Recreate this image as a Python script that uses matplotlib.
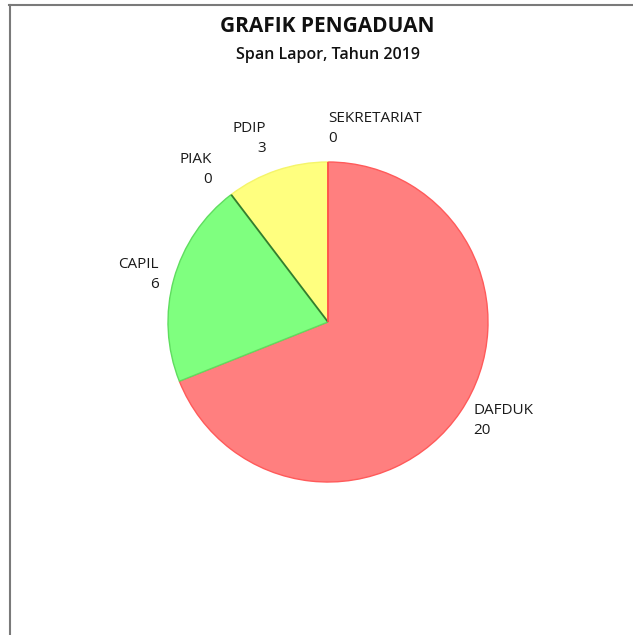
import numpy as np
import matplotlib
matplotlib.use("Agg")
import matplotlib.pyplot as plt

# data
categories = ["DAFDUK", "CAPIL", "PIAK", "PDIP", "SEKRETARIAT"]
values = [20, 6, 0, 3, 0]
fill_colors = ["#ff7f7f", "#7fff7f", "#5fbf5f", "#ffff7f", "#ff7f7f"]
edge_colors = ["#ff5a5a", "#5fdd5f", "#2f7f2f", "#f5f56a", "#ff4a4a"]
label_dist = [1.1, 1.1, 1.2, 1.21, 1.21]

plt.rcParams["font.family"] = ["Open Sans", "DejaVu Sans"]

fig = plt.figure(figsize=(6.33, 6.35), dpi=100)
fig.patch.set_facecolor("white")

# frame lines (top and left)
fig.add_artist(plt.Line2D([9 / 633, 1], [1 - 4.5 / 635] * 2, color="#7a7a7a", lw=1.5))
fig.add_artist(plt.Line2D([9.5 / 633] * 2, [0, 1 - 4.5 / 635], color="#7a7a7a", lw=1.5))

fig.text(327 / 633, 1 - 27 / 635, "GRAFIK PENGADUAN", ha="center", va="center",
         fontsize=15, fontweight="bold", color="#111111")
fig.text(328 / 633, 1 - 55 / 635, "Span Lapor, Tahun 2019", ha="center", va="center",
         fontsize=11.5, fontweight="semibold", color="#111111")

# pie axes: center (328, 322), radius ~160 px
r_px = 160
cx, cy = 328, 322
ax = fig.add_axes([(cx - r_px) / 633, 1 - (cy + r_px) / 635, 2 * r_px / 633, 2 * r_px / 635])
wedges, _ = ax.pie(values, colors=fill_colors, startangle=90, counterclock=False,
                   wedgeprops=dict(linewidth=1.0), radius=1.0)
for w, ec, v in zip(wedges, edge_colors, values):
    w.set_edgecolor(ec)
    if v == 0:
        w.set_zorder(3)
        w.set_linewidth(1.3)
ax.set_xlim(-1, 1)
ax.set_ylim(-1, 1)
ax.set_aspect("equal")
ax.axis("off")

for w, name, val, d in zip(wedges, categories, values, label_dist):
    ang = np.deg2rad((w.theta1 + w.theta2) / 2)
    x, y = d * np.cos(ang), d * np.sin(ang)
    ha = "left" if x >= -1e-9 else "right"
    ax.text(x, y, f"{name}\n{val}", ha=ha, va="center", multialignment=ha,
            fontsize=11, color="#1a1a1a", linespacing=1.45, clip_on=False)

fig.savefig("out.png", dpi=100, facecolor="white")
